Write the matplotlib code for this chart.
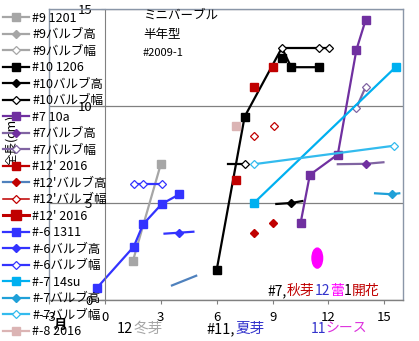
import numpy as np
import matplotlib
matplotlib.use("Agg")
import matplotlib.pyplot as plt
from matplotlib.patches import Ellipse

plt.rcParams['font.family'] = ['Noto Sans CJK JP', 'DejaVu Sans']

nan = np.nan

# series data (month, length cm)
s9_x, s9_y = [1.5, 3.0], [2.0, 7.0]
s10_x = [6.0, 7.5, 9.5, 10.0, 11.5]
s10_y = [1.55, 9.45, 13.0, 12.0, 12.0]
s10_extra_x, s10_extra_y = [9.5], [12.5]
s10h_x, s10h_y = [9.2, 10.0, 10.6], [4.95, 5.0, 5.1]
s10w_x = [6.6, 7.5, 7.65, nan, 9.5, 11.5, 12.05]
s10w_y = [7.0, 7.0, 7.0, nan, 13.0, 13.0, 13.0]
s7_x = [10.5, 11.0, 12.5, 13.5, 14.0]
s7_y = [3.95, 6.45, 7.5, 12.9, 14.45]
s7h_x, s7h_y = [12.5, 14.0, 14.95], [7.0, 7.02, 7.1]
s7w_x, s7w_y = [13.5, 14.0], [9.9, 11.0]
s12_x, s12_y = [7.05, nan, 8.0, nan, 9.0], [6.2, nan, 11.0, nan, 12.0]
s12h_x = [3.6, 4.9, nan, 8.0, nan, 9.0]
s12h_y = [0.75, 1.25, nan, 3.45, nan, 3.95]
s12w_x, s12w_y = [8.0, nan, 9.05], [8.45, nan, 8.97]
s6_x = [-0.45, 1.55, 2.05, 3.05, 4.0]
s6_y = [0.6, 2.75, 3.9, 4.95, 5.45]
s6h_x, s6h_y = [3.2, 4.0, 4.75], [3.42, 3.47, 3.52]
s6w_x, s6w_y = [1.55, 2.05, 3.05], [6.0, 6.0, 6.0]
s7c_x, s7c_y = [8.0, 15.6], [5.0, 12.0]
s7ch_x, s7ch_y = [14.5, 15.4, 15.8], [5.5, 5.45, 5.5]
s7cw_x, s7cw_y = [8.0, 15.5], [7.0, 7.95]
s8_x, s8_y = [7.05], [8.95]
bud_xy = (11.4, 2.16)

xticks = [-3, 0, 3, 6, 9, 12, 15]
yticks = [0, 5, 10, 15]

GRAY = '#a6a6a6'
PURP = '#7030a0'
PURP2 = '#8064a2'
DRED = '#c00000'
STEEL = '#4f81bd'
BLUE = '#3333ff'
CYAN = '#00b0f0'
CYAN2 = '#1fa0d8'
CYAN3 = '#33bbee'
PINK = '#dbb4b4'
FRAME = '#8a96a8'

fig = plt.figure(figsize=(4.19, 3.41), dpi=100)
ax = fig.add_axes([49/419, 41/341, 354/419, 291/341])
ax.set_xlim(-3, 16)
ax.set_ylim(0, 15)

lw = 1.6
sq = dict(marker='s', ms=5.5)
fd = dict(marker='D', ms=3.8)
od = dict(marker='D', ms=4.5, mfc='white', mew=0.9)

ax.plot(s9_x, s9_y, color=GRAY, lw=lw, label='#9 1201', **sq)
ax.plot([], [], color=GRAY, lw=lw, label='#9バルブ高', **fd)
ax.plot([], [], color=GRAY, lw=lw, label='#9バルブ幅', **od)
ax.plot(s10_x, s10_y, color='k', lw=lw, markevery=[0, 1, 3, 4], label='#10 1206', **sq)
ax.plot(s10_extra_x, s10_extra_y, color='k', ls='none', **sq)
ax.plot(s10h_x, s10h_y, color='k', lw=lw, markevery=[1], label='#10バルブ高', **fd)
ax.plot(s10w_x, s10w_y, color='k', lw=lw, markevery=[1, 4, 5, 6], label='#10バルブ幅',
        mec='k', **od)
ax.plot(s7_x, s7_y, color=PURP, lw=lw, label='#7 10a', **sq)
ax.plot(s7h_x, s7h_y, color=PURP2, lw=lw, markevery=[1], mfc=PURP, mec=PURP,
        label='#7バルブ高', **fd)
ax.plot(s7w_x, s7w_y, color=PURP2, lw=lw, mec=PURP2, label='#7バルブ幅', **od)
ax.plot(s12_x, s12_y, color=DRED, lw=lw, label="#12' 2016", **sq)
ax.plot(s12h_x, s12h_y, color=STEEL, lw=lw, markevery=[3, 5], mfc=DRED, mec=DRED,
        label="#12'バルブ高", **fd)
ax.plot(s12w_x, s12w_y, color=DRED, lw=lw * 0.7, mec=DRED, label="#12'バルブ幅", **od)
ax.plot([], [], color=DRED, lw=2.2, marker='s', ms=6.5, label="#12' 2016")
ax.plot(s6_x, s6_y, color=BLUE, lw=lw, label='#-6 1311', **sq)
ax.plot(s6h_x, s6h_y, color=BLUE, lw=lw, markevery=[1], label='#-6バルブ高', **fd)
ax.plot(s6w_x, s6w_y, color=BLUE, lw=lw, mec=BLUE, label='#-6バルブ幅', **od)
ax.plot(s7c_x, s7c_y, color=CYAN, lw=lw, label='#-7 14su', **sq)
ax.plot(s7ch_x, s7ch_y, color=CYAN2, lw=lw, markevery=[1], label='#-7バルブ高', **fd)
ax.plot(s7cw_x, s7cw_y, color=CYAN3, lw=lw, mec=CYAN3, label='#-7バルブ幅', **od)
ax.plot(s8_x, s8_y, color=PINK, lw=lw, label='#-8 2016', **sq)

ax.add_patch(Ellipse(bud_xy, 0.57, 1.03, color='#ff00ff', zorder=3))

# axes look
for side in ['top', 'right', 'bottom']:
    ax.spines[side].set_color(FRAME)
    ax.spines[side].set_linewidth(1.0)
ax.spines['bottom'].set_color('#808080')
ax.spines['left'].set_position(('data', 0))
ax.spines['left'].set_color('#808080')
ax.axvline(-3, color=FRAME, lw=1.0, clip_on=False)
ax.set_xticks(xticks)
ax.set_yticks(yticks)
ax.tick_params(axis='both', length=3, color='#808080', labelsize=9.5)
ax.tick_params(axis='x', pad=5)
ax.tick_params(axis='y', pad=6)
ax.yaxis.grid(True, color='#808080', lw=0.9)
ax.set_axisbelow(True)

# annotations
ax.text(2.04, 14.7, 'ミニバーブル', fontsize=9, va='center')
ax.text(2.04, 13.7, '半年型', fontsize=9, va='center')
ax.text(2.04, 12.73, '#2009-1', fontsize=8, va='center')


def colored(x, y, parts, size=9):
    t = ax.text(x, y, parts[0][0], color=parts[0][1], fontsize=size, va='center',
                clip_on=False)
    for s, c in parts[1:]:
        t = ax.annotate(s, xy=(1, 0), xycoords=t, va='bottom', ha='left',
                        color=c, fontsize=size, annotation_clip=False)


colored(8.73, 0.45, [('#7,', 'k'), ('秋芽', DRED), ('12', '#3333cc'), ('蕾', '#ff00ff'),
                     ('1', 'k'), ('開花', DRED)], size=10)
colored(0.64, -1.5, [('12', 'k'), ('冬芽', GRAY)], size=10.5)
colored(5.46, -1.5, [('#11,', 'k'), ('夏芽', '#3333cc')], size=10.5)
colored(11.03, -1.5, [('11', '#3333cc'), ('シース', '#dd33dd')], size=10)
ax.text(-2.41, -1.3, '月', fontsize=9.5, fontweight='bold', va='center', ha='center',
        clip_on=False)

fig.text(12/419, 1 - 140/341, '全長(cm)', rotation=90, fontsize=9,
         va='center', ha='center')

fig.legend(loc='upper left', bbox_to_anchor=(0.0, 0.973), frameon=False, fontsize=9,
           handlelength=2.1, handletextpad=0.3, labelspacing=0.28,
           borderaxespad=0.0, borderpad=0.2)

fig.savefig('out.png', dpi=100)
